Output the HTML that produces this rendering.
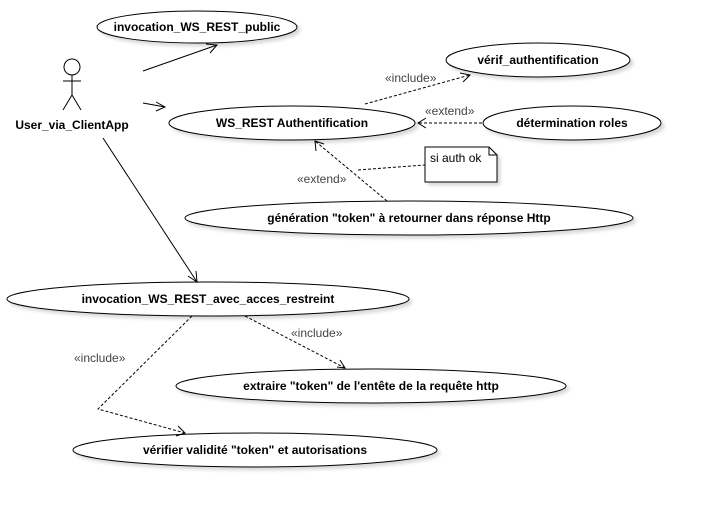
<!DOCTYPE html>
<html><head><meta charset="utf-8"><style>
body{margin:0;background:#fff}
svg{display:block}
text{font-family:"Liberation Sans",sans-serif;font-size:12px;fill:#000}
.b{font-weight:bold;text-anchor:middle}
.s{fill:#444;font-size:12px}
</style></head><body>
<svg width="705" height="508" viewBox="0 0 705 508">
<defs>
<filter id="sh" x="-10%" y="-30%" width="130%" height="180%"><feDropShadow dx="3" dy="3" stdDeviation="1.5" flood-color="#000" flood-opacity="0.15"/></filter>
</defs>
<g fill="#fff" stroke="#000" stroke-width="1" filter="url(#sh)">
<ellipse cx="197" cy="27" rx="100" ry="16"/>
<ellipse cx="538" cy="60" rx="92" ry="17"/>
<ellipse cx="292" cy="123" rx="123" ry="17"/>
<ellipse cx="572" cy="123" rx="89" ry="17"/>
<ellipse cx="409" cy="218" rx="224" ry="17"/>
<ellipse cx="208" cy="299" rx="201" ry="17"/>
<ellipse cx="371" cy="386" rx="195" ry="17"/>
<ellipse cx="255" cy="450" rx="182" ry="17"/>
<path d="M425 147 H489 L497 155 V182 H425 Z"/>
</g>
<path d="M489 147 V155 H497" fill="none" stroke="#000"/>
<text class="b" x="197" y="31">invocation_WS_REST_public</text>
<text class="b" x="538" y="64">vérif_authentification</text>
<text class="b" x="292" y="127">WS_REST Authentification</text>
<text class="b" x="572" y="127">détermination roles</text>
<text class="b" x="409" y="222">génération "token" à retourner dans réponse Http</text>
<text class="b" x="208" y="303">invocation_WS_REST_avec_acces_restreint</text>
<text class="b" x="371" y="390">extraire "token" de l'entête de la requête http</text>
<text class="b" x="255" y="454">vérifier validité "token" et autorisations</text>
<text x="430" y="162" style="font-size:12px">si auth ok</text>
<!-- actor -->
<g stroke="#000" fill="none">
<circle cx="72" cy="67" r="8" fill="#fff"/>
<path d="M72 75 V95 M63 81 H81 M72 95 L63 110 M72 95 L81 110"/>
<!-- solid associations -->
<path d="M143 71 L217 45 M206 44 L217 45 L210 53"/>
<path d="M143 103 L165 107 M156 102 L165 107 L156 111"/>
<path d="M103 138 L197 282 M196 271 L197 282 L188 276"/>
<!-- dashed -->
<g stroke-dasharray="3,2">
<path d="M365 104 L470 75"/>
<path d="M482 123 L418 123"/>
<path d="M387 201 L315 141"/>
<path d="M358 170 L425 165"/>
<path d="M245 316 L345 368"/>
<path d="M192 316 L98 409 L185 433"/>
</g>
<path d="M460 73 L470 75 L463 82"/>
<path d="M426 118 L418 123 L426 128"/>
<path d="M316 151 L315 141 L324 144"/>
<path d="M337 367 L345 368 L340 360"/>
<path d="M176 436 L185 433 L178 426"/>
</g>
<text x="72" y="129" class="b">User_via_ClientApp</text>
<text class="s" x="385" y="82">«include»</text>
<text class="s" x="425" y="115">«extend»</text>
<text class="s" x="297" y="183">«extend»</text>
<text class="s" x="291" y="337">«include»</text>
<text class="s" x="74" y="362">«include»</text>
</svg>
</body></html>
